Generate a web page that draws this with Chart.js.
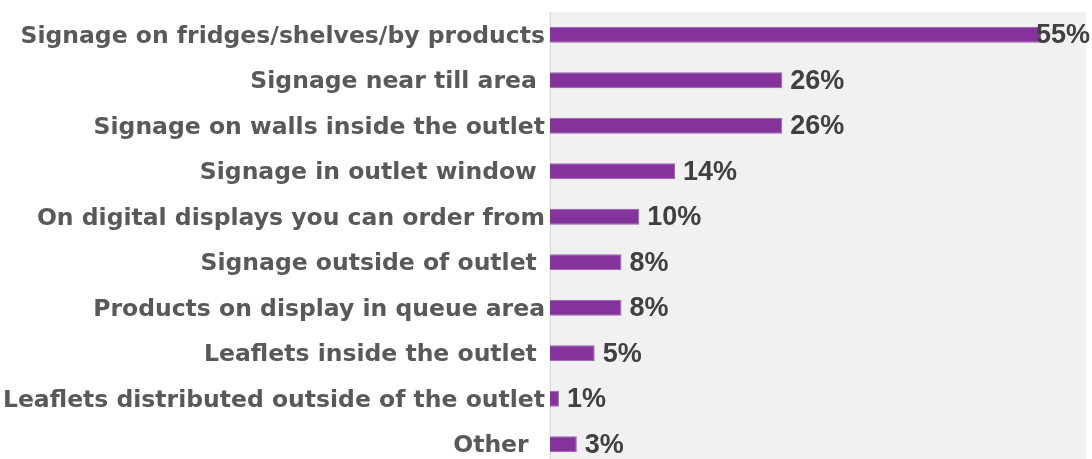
<!DOCTYPE html>
<html>
<head>
<meta charset="utf-8">
<script src="https://cdn.jsdelivr.net/npm/chart.js@4"></script>
<style>
  html, body { margin: 0; padding: 0; background: #fff; overflow: hidden; }
  #wrap { width: 1092px; height: 468px; }
</style>
</head>
<body>
<div id="wrap"><canvas id="promo" width="1092" height="468"></canvas></div>
<script>
// where respondents noticed promotions (share of respondents)
const channels = [
  "Signage on fridges/shelves/by products",
  "Signage near till area ",
  "Signage on walls inside the outlet",
  "Signage in outlet window ",
  "On digital displays you can order from",
  "Signage outside of outlet ",
  "Products on display in queue area",
  "Leaflets inside the outlet ",
  "Leaflets distributed outside of the outlet",
  "Other  ",
];
const shares = [55, 26, 26, 14, 10, 8, 8, 5, 1, 3];

// grey panel behind the bars
const panelBg = {
  id: "panelBg",
  beforeDraw(chart) {
    const { ctx, chartArea } = chart;
    ctx.save();
    ctx.fillStyle = "#f1f1f1";
    ctx.fillRect(chartArea.left - 1, chartArea.top, chartArea.right - chartArea.left + 1, chartArea.bottom - chartArea.top);
    ctx.restore();
  },
};

// percentage next to each bar, kept inside the canvas
const valueLabels = {
  id: "valueLabels",
  afterDatasetsDraw(chart) {
    const { ctx } = chart;
    const meta = chart.getDatasetMeta(0);
    ctx.save();
    ctx.font = "bold 27px 'Liberation Sans', Arial, sans-serif";
    ctx.fillStyle = "#404040";
    ctx.textBaseline = "middle";
    ctx.textAlign = "left";
    meta.data.forEach((bar, i) => {
      const text = shares[i] + "%";
      const w = ctx.measureText(text).width;
      const x = Math.min(bar.x + 8, chart.width - w - 2);
      ctx.fillText(text, x, bar.y + 1);
    });
    ctx.restore();
  },
};

new Chart(document.getElementById("promo"), {
  type: "bar",
  data: {
    labels: channels,
    datasets: [
      {
        data: shares,
        backgroundColor: "#833399",
        borderColor: "#9a5cb0",
        borderWidth: 1,
        categoryPercentage: 1,
        barPercentage: 0.35,
      },
    ],
  },
  options: {
    indexAxis: "y",
    responsive: false,
    animation: false,
    layout: { padding: { top: 12, right: 6, bottom: 1, left: 0 } },
    plugins: {
      legend: { display: false },
      tooltip: { enabled: false },
    },
    scales: {
      x: {
        display: false,
        min: 0,
        max: 60,
      },
      y: {
        afterFit(scale) {
          scale.width = 550;
          scale.paddingTop = 0;
          scale.paddingBottom = 0;
        },
        grid: { display: false, drawTicks: false },
        border: { display: true, color: "#d9d9d9", width: 1 },
        ticks: {
          padding: 5,
          labelOffset: 2,
          color: "#595959",
          font: { family: "'DejaVu Sans', sans-serif", weight: "bold", size: 23.5 },
        },
      },
    },
  },
  plugins: [panelBg, valueLabels],
});
</script>
</body>
</html>
